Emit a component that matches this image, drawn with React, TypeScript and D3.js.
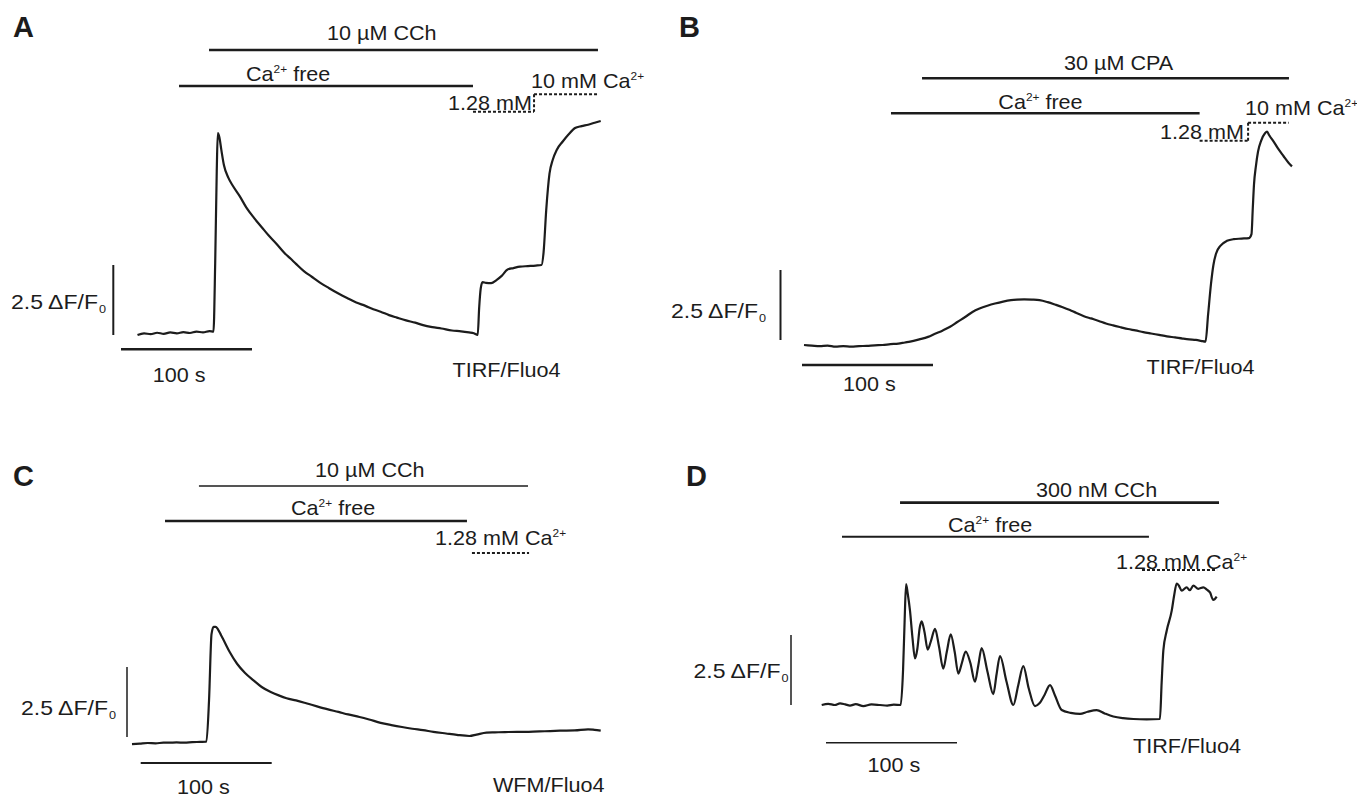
import * as d3 from "d3";

// calcium traces, [time (s), ΔF/F0]
const traceA: [number, number][] = [
  [0, -0.06], [5, 0.0], [10, -0.03], [15, 0.02], [20, -0.02], [25, 0.03], [30, 0.0], [35, 0.04],
  [40, 0.01], [45, 0.06], [50, 0.03], [55, 0.08], [58, 0.06], [59.3, 2.5], [60.5, 5.8], [61.3, 7.15],
  [62.5, 7.0], [64, 6.55], [66, 6.0], [69.4, 5.55], [73, 5.25], [78, 4.9], [83, 4.5], [88.8, 4.13],
  [95, 3.78], [100, 3.5], [106, 3.2], [112, 2.88], [117, 2.66], [121, 2.48], [127, 2.22], [133, 2.02],
  [139, 1.82], [146, 1.62], [153.4, 1.42], [160, 1.26], [167, 1.1], [174, 0.98], [180, 0.86],
  [185.6, 0.77], [192, 0.65], [198, 0.56], [205, 0.46], [212, 0.38], [218, 0.29], [225, 0.22],
  [232, 0.17], [240, 0.1], [247, 0.07], [253, 0.03], [256.7, 0.0], [259.7, -0.06], [260.8, 0.9],
  [262, 1.6], [263.4, 1.83], [266, 1.8], [270, 1.79], [274, 1.9], [278, 2.05], [282.5, 2.28],
  [287, 2.33], [292, 2.38], [298, 2.4], [304, 2.42], [308.4, 2.44], [310, 2.9], [312, 4.4],
  [314.5, 5.7], [317, 6.2], [320, 6.55], [324.6, 6.85], [329, 7.1], [334, 7.33], [339, 7.4],
  [344, 7.45], [349, 7.52], [353.6, 7.58],
];

const traceB: [number, number][] = [
  [0, 0], [6, -0.02], [12, -0.04], [18, -0.02], [24, -0.06], [30, -0.04], [36, -0.06], [42, -0.04],
  [48, -0.03], [54, -0.01], [60, 0.0], [66, 0.03], [72, 0.05], [77, 0.09], [81, 0.12], [88, 0.2],
  [94.7, 0.29], [100, 0.4], [106, 0.52], [111.5, 0.65], [117, 0.82], [123, 1.0], [128.6, 1.18],
  [134, 1.3], [140, 1.4], [145.8, 1.48], [152, 1.55], [158, 1.6], [162.6, 1.62], [168, 1.63],
  [174, 1.62], [179.8, 1.6], [186, 1.53], [192, 1.44], [197, 1.36], [203, 1.25], [208, 1.14],
  [213.7, 1.03], [219, 0.95], [225, 0.86], [230.5, 0.77], [236, 0.7], [242, 0.63], [247.3, 0.57],
  [253, 0.52], [259, 0.46], [264.9, 0.41], [271, 0.36], [277, 0.31], [283.2, 0.27], [289, 0.23],
  [294, 0.2], [299.2, 0.18], [303, 0.15], [306.5, 0.12], [308.5, 1.1], [310.7, 2.19], [312.5, 2.85],
  [314.5, 3.26], [318, 3.55], [322.9, 3.72], [328, 3.78], [334, 3.8], [339.7, 3.82], [341.6, 3.96],
  [342.6, 4.9], [343.5, 5.73], [345, 6.4], [346.6, 6.91], [349, 7.3], [351.9, 7.56], [353.5, 7.62],
  [355, 7.5], [358, 7.3], [361.8, 7.02], [366, 6.75], [370, 6.5], [372.5, 6.38],
];

const traceC: [number, number][] = [
  [0, -0.04], [6, -0.02], [12, 0.0], [18, -0.01], [24, 0.01], [28.2, 0.01], [34, 0.02], [40, 0.01],
  [46, 0.03], [52, 0.04], [56.8, 0.05], [58.8, 1.52], [60.7, 3.89], [62.3, 4.15], [63.8, 4.15],
  [65.6, 4.06], [68, 3.85], [70.2, 3.65], [74.8, 3.23], [80.2, 2.83], [86.3, 2.5], [93, 2.23],
  [99, 2.0], [105.9, 1.82], [112, 1.7], [118, 1.6], [125.2, 1.52], [133, 1.42], [141.2, 1.31],
  [149, 1.21], [157.6, 1.11], [165, 1.02], [173.7, 0.93], [181, 0.84], [189.8, 0.72], [198, 0.64],
  [206.1, 0.57], [214, 0.51], [222.1, 0.46], [230, 0.4], [239.7, 0.34], [248, 0.29], [257.6, 0.25],
  [263, 0.3], [270.6, 0.37], [277, 0.38], [284.7, 0.39], [294, 0.4], [302.9, 0.4], [315, 0.42],
  [326.7, 0.44], [338, 0.45], [348.1, 0.49], [353, 0.47], [357.8, 0.44],
];

const traceD: [number, number][] = [
  [0, 0], [5, 0.04], [10, 0.0], [14, 0.06], [18, 0.02], [21.6, -0.02], [26, 0.03], [31.8, -0.04],
  [38, 0.02], [44.5, 0.0], [50, -0.02], [55, 0.01], [60.3, 0.0], [62.1, 1.24], [63.3, 3.0],
  [64.4, 4.32], [65.6, 4.0], [67.4, 3.37], [69.3, 2.4], [71.2, 1.66], [73, 2.0], [74.8, 2.75],
  [76.3, 2.99], [78.5, 2.6], [80.9, 1.98], [83.5, 2.3], [86.5, 2.72], [89.5, 2.1], [92.8, 1.3],
  [95.5, 1.9], [98.5, 2.52], [101.5, 1.9], [104.3, 1.12], [107, 1.5], [109.9, 1.91], [113.5, 1.5],
  [117, 0.83], [119.5, 1.4], [122.1, 2.03], [126.5, 1.2], [131, 0.39], [133.5, 1.1], [136.1, 1.75],
  [141, 0.85], [146.3, 0.0], [150, 0.7], [153.9, 1.39], [158, 0.6], [162.8, -0.04], [166, 0.05],
  [170, 0.35], [174.3, 0.71], [178, 0.35], [183.2, -0.18], [190, -0.28], [197.2, -0.32],
  [203, -0.24], [209.9, -0.18], [216, -0.3], [222.6, -0.41], [230, -0.47], [237.9, -0.5],
  [248, -0.51], [258.2, -0.5], [259.5, 0.8], [260.8, 1.95], [263.4, 2.66], [267.2, 3.37],
  [269, 3.9], [271, 4.34], [272.8, 4.25], [274.8, 4.08], [278.6, 4.2], [281, 4.1], [283.7, 4.26],
  [287.5, 4.15], [291.3, 4.2], [294, 4.12], [296.4, 4.02], [298.9, 3.75], [301.5, 3.87],
];

// application periods, seconds from the start of each trace
const cchA = [54.6, 351.5];
const caFreeA = [31.7, 256.1];
const ca128A = [256.1, 302.7];
const ca10A = [302.7, 350.8];

const cpaB = [90.1, 370.2];
const caFreeB = [66.4, 302];
const ca128B = [302, 339];
const ca10B = [339, 370];

const cchC = [51.1, 302.3];
const caFreeC = [25.2, 255.7];
const ca128C = [259.5, 303.1];

const cchD = [59.8, 303.3];
const caFreeD = [15.5, 249.8];
const ca128D = [244.5, 301.8];

// scale bars
const barSeconds = 100;
const barDF = 2.5;

const PX_PER_S = 1.31;
const PX_PER_UNIT = 28;
const INK = "#1c1c1c";
const FONT = "'Liberation Sans', Arial, Helvetica, sans-serif";

function Txt({ x, y, size = 20, bold = false, stretch = 1.08, children }: any) {
  return (
    <text
      transform={`translate(${x},${y}) scale(${bold ? 1 : stretch},1)`}
      fontSize={size}
      fontWeight={bold ? "bold" : "normal"}
      fill={INK}
    >
      {children}
    </text>
  );
}

const sup = (s: string, rest = "") => [
  <tspan key="s" dy={-8} fontSize={11}>{s}</tspan>,
  <tspan key="r" dy={8}>{rest}</tspan>,
];

function Panel({ cfg }: any) {
  const x = d3.scaleLinear().domain([0, barSeconds]).range([cfg.x0, cfg.x0 + barSeconds * PX_PER_S]);
  const y = d3.scaleLinear().domain([0, barDF]).range([cfg.y0, cfg.y0 - barDF * PX_PER_UNIT]);
  const line = d3
    .line<[number, number]>()
    .x((d) => x(d[0]))
    .y((d) => y(d[1]))
    .curve(d3.curveMonotoneX);
  const hLen = x(barSeconds) - x(0);
  const vLen = y(0) - y(barDF);

  return (
    <g>
      <Txt x={cfg.letter[0]} y={cfg.letter[1]} size={29} bold>{cfg.id}</Txt>
      {cfg.bars.map((b: any, i: number) => (
        <g key={i}>
          <line
            x1={x(b.period[0])}
            x2={x(b.period[1])}
            y1={b.row}
            y2={b.row}
            stroke={INK}
            strokeWidth={b.w}
            strokeDasharray={b.dashed ? "3 2" : undefined}
          />
          <Txt x={b.lx} y={b.ly}>{b.label}</Txt>
        </g>
      ))}
      {cfg.step && (
        <line
          x1={x(cfg.step.t)}
          x2={x(cfg.step.t)}
          y1={cfg.step.y1}
          y2={cfg.step.y2}
          stroke={INK}
          strokeWidth={2}
          strokeDasharray="3 2"
        />
      )}
      <path d={line(cfg.trace) || ""} fill="none" stroke={INK} strokeWidth={2.2} strokeLinejoin="round" />
      <line x1={cfg.vbar[0]} x2={cfg.vbar[0]} y1={cfg.vbar[1]} y2={cfg.vbar[1] - vLen} stroke={INK} strokeWidth={cfg.vbarW} />
      <Txt x={cfg.dfPos[0]} y={cfg.dfPos[1]} stretch={1.15}>
        2.5 ΔF/F<tspan dx={1} dy={4} fontSize={11}>0</tspan>
      </Txt>
      <line x1={cfg.hbar[0]} x2={cfg.hbar[0] + hLen} y1={cfg.hbar[1]} y2={cfg.hbar[1]} stroke={INK} strokeWidth={cfg.hbarW} />
      <Txt x={cfg.secPos[0]} y={cfg.secPos[1]}>100 s</Txt>
      <Txt x={cfg.methodPos[0]} y={cfg.methodPos[1]}>{cfg.method}</Txt>
    </g>
  );
}

const panels = [
  {
    id: "A", letter: [13, 37], trace: traceA, x0: 137.5, y0: 333.3,
    bars: [
      { period: cchA, row: 50, w: 2.5, label: "10 µM CCh", lx: 327, ly: 40 },
      { period: caFreeA, row: 86, w: 2.5, label: ["Ca", ...sup("2+", " free")], lx: 246, ly: 81 },
      { period: ca10A, row: 94.3, w: 2, dashed: true, label: ["10 mM Ca", ...sup("2+")], lx: 531, ly: 88.3 },
      { period: ca128A, row: 111.7, w: 2, dashed: true, label: "1.28 mM", lx: 448, ly: 110 },
    ],
    step: { t: ca128A[1], y1: 94.3, y2: 111.7 },
    vbar: [113.3, 335], vbarW: 2, dfPos: [11, 309.3],
    hbar: [121, 349.3], hbarW: 2.5, secPos: [152.7, 381.7],
    method: "TIRF/Fluo4", methodPos: [452.6, 376.7],
  },
  {
    id: "B", letter: [679, 37], trace: traceB, x0: 804, y0: 345,
    bars: [
      { period: cpaB, row: 78.3, w: 2.5, label: "30 µM CPA", lx: 1064, ly: 70 },
      { period: caFreeB, row: 113.3, w: 2.5, label: ["Ca", ...sup("2+", " free")], lx: 998.3, ly: 108.7 },
      { period: ca10B, row: 122.7, w: 2, dashed: true, label: ["10 mM Ca", ...sup("2+")], lx: 1245, ly: 115.3 },
      { period: ca128B, row: 140.7, w: 2, dashed: true, label: "1.28 mM", lx: 1160, ly: 139.3 },
    ],
    step: { t: ca128B[1], y1: 122.7, y2: 140.7 },
    vbar: [780.5, 340], vbarW: 2, dfPos: [671, 318.3],
    hbar: [802, 365], hbarW: 2.5, secPos: [843, 391],
    method: "TIRF/Fluo4", methodPos: [1146.6, 374],
  },
  {
    id: "C", letter: [13, 485.5], trace: traceC, x0: 132, y0: 743,
    bars: [
      { period: cchC, row: 486, w: 1.4, label: "10 µM CCh", lx: 315, ly: 477 },
      { period: caFreeC, row: 521, w: 2.6, label: ["Ca", ...sup("2+", " free")], lx: 291, ly: 515 },
      { period: ca128C, row: 553, w: 2, dashed: true, label: ["1.28 mM Ca", ...sup("2+")], lx: 435, ly: 545 },
    ],
    vbar: [127, 737], vbarW: 1.5, dfPos: [21, 715],
    hbar: [140.7, 763], hbarW: 2.2, secPos: [177, 794],
    method: "WFM/Fluo4", methodPos: [493, 792],
  },
  {
    id: "D", letter: [686, 485.5], trace: traceD, x0: 821.7, y0: 705,
    bars: [
      { period: cchD, row: 502.7, w: 2.7, label: "300 nM CCh", lx: 1036, ly: 496.7 },
      { period: caFreeD, row: 536.7, w: 2, label: ["Ca", ...sup("2+", " free")], lx: 948, ly: 531.7 },
      { period: ca128D, row: 570, w: 2, dashed: true, label: ["1.28 mM Ca", ...sup("2+")], lx: 1116, ly: 569 },
    ],
    vbar: [791, 705], vbarW: 1.5, dfPos: [693.5, 678],
    hbar: [826, 742.7], hbarW: 1.5, secPos: [867.6, 771.7],
    method: "TIRF/Fluo4", methodPos: [1133, 753],
  },
];

export default function App() {
  return (
    <svg
      width={1357}
      height={799}
      style={{ position: "absolute", left: 0, top: 0, background: "#fff" }}
      fontFamily={FONT}
    >
      <rect width={1357} height={799} fill="#fff" />
      {panels.map((p) => (
        <Panel key={p.id} cfg={p} />
      ))}
    </svg>
  );
}
